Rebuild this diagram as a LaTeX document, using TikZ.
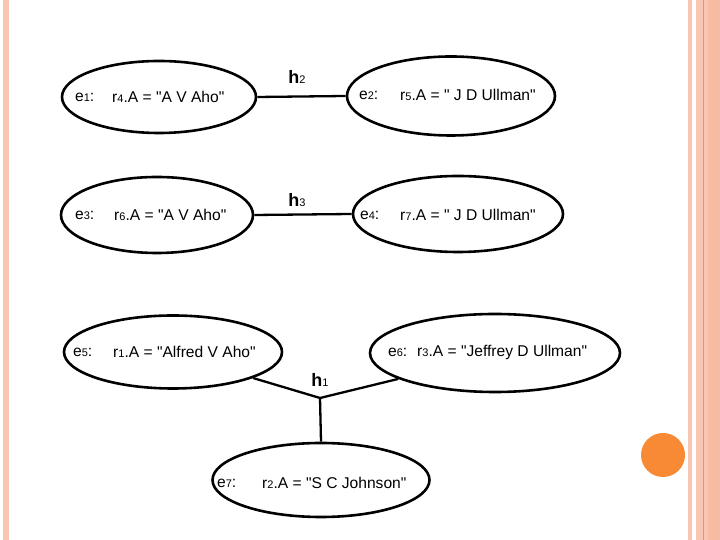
\documentclass[tikz,border=0pt]{standalone}
\usepackage{fontspec}
\setmainfont{Liberation Sans}[Ligatures=TeXOff]
\usetikzlibrary{shapes.geometric}
\definecolor{Stripe}{HTML}{F8C6B2}
\definecolor{StripeDk}{HTML}{F6BBA3}
\definecolor{Rule}{HTML}{E8956A}
\definecolor{Dot}{HTML}{F98A35}
\newcommand{\sm}[1]{{\fontsize{11}{11}\selectfont #1}}
\newcommand{\qq}{\symbol{34}}
\tikzset{
  ent/.style={draw=black,ellipse,line width=2.6pt,inner sep=0pt},
  lbl/.style={anchor=west,font=\fontsize{15.6}{17}\selectfont,inner sep=0pt},
  hlbl/.style={font=\fontsize{18}{20}\selectfont,inner sep=0pt},
  link/.style={draw=black,line width=2.3pt}
}
\begin{document}
\begin{tikzpicture}[x=1pt,y=1pt]
\useasboundingbox (0,0) rectangle (720,540);
\fill[white] (0,0) rectangle (720,540);

% page frame
\fill[Stripe] (3,0) rectangle (9,540);
\fill[Stripe] (688,0) rectangle (692,540);
\fill[Stripe] (696,0) rectangle (720,540);
\fill[StripeDk] (708,0) rectangle (720,540);
\draw[Rule,line width=0.8pt] (703,0) -- (703,540);
\fill[Dot] (663,85) circle (22);

% entity ellipses
\foreach \n/\x/\y/\w/\h in {e1/159/443/194/72,e2/451/444/208/79,e3/157/325/192/76,e4/458/326/210/76,e5/173/188/218/73,e6/495/187/250/78,e7/321/60/217/74}{
  \node[ent,minimum width=\w pt,minimum height=\h pt] (\n) at (\x,\y) {};
}

% texts inside
\foreach \k/\xa/\xb/\y/\r/\txt in {1/75/112/443/4/A V Aho,2/359/400/445/5/ J D Ullman,3/75/114/325/6/A V Aho,4/360/400/325/7/ J D Ullman,5/73/113/188/1/Alfred V Aho,6/388/417/188/3/Jeffrey D Ullman,7/217/262/57/2/S C Johnson}{
  \node[lbl] (k\k) at (\xa,\y) {e\sm{\k}:};
  \node[lbl] (v\k) at (\xb,\y) {r\sm{\r}.A = \qq\txt\qq};
}

% hyperedges
\node[hlbl] (h2) at (297,463) {\textbf{h}\sm{2}};
\node[hlbl] (h3) at (297,340) {\textbf{h}\sm{3}};
\node[hlbl] (h1) at (320,160) {\textbf{h}\sm{1}};
\draw[link] (e1.east) -- (e2.west);
\draw[link] (e3.east) -- (e4.west);
\coordinate (j1) at (320,142);
\draw[link] (e5.-18) -- (j1) -- (e6.-165);
\draw[link] (j1) -- (e7.north);
\end{tikzpicture}
\end{document}
